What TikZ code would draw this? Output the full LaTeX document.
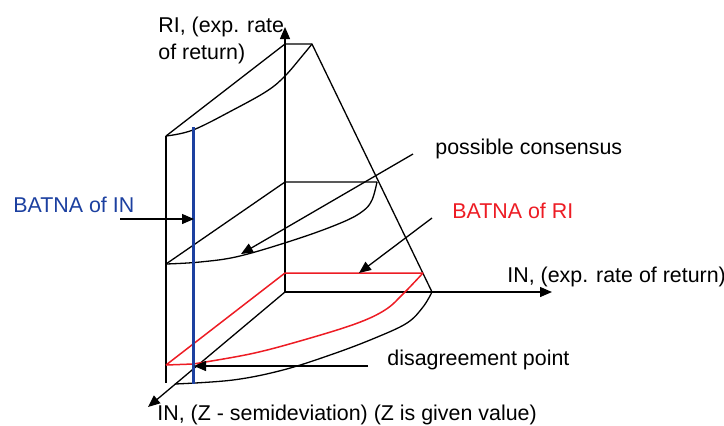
\documentclass[tikz,border=0pt]{standalone}
\usepackage{fontspec}
\setmainfont{Liberation Sans}
\usepackage{xcolor}
\usetikzlibrary{arrows.meta}

\definecolor{batnablue}{RGB}{28,64,160}
\definecolor{batnared}{RGB}{237,28,36}

\begin{document}
\begin{tikzpicture}[x=0.5pt,y=-0.5pt,
  every node/.style={inner sep=0pt,anchor=base west,font=\fontsize{10.7}{13.5}\selectfont},
  edge/.style={line width=0.65pt},
  pointer/.style={line width=0.65pt,-{Triangle[length=6pt,width=5pt]}},
  redline/.style={batnared,line width=0.75pt}]
  \useasboundingbox (0,0) rectangle (724,425);
  % axes
  \coordinate (O) at (285,292);
  \coordinate (RItip) at (285,27);
  \coordinate (INtip) at (552,292);
  \coordinate (Ztip) at (148,407);
  \draw[pointer] (O) -- (RItip);
  \draw[pointer] (O) -- (INtip);
  \draw[pointer] (O) -- (Ztip);
  % outer body
  \coordinate (top) at (312,44);
  \coordinate (topleft) at (166,136);
  \coordinate (right) at (432,292);
  \draw[edge] (RItip |- top) -- (top) -- (right);
  \draw[edge] (topleft) -- (285,44);
  \draw[edge] (topleft) -- (166,383);
  \draw[edge] plot[smooth,tension=0.6] coordinates {(166,136) (193,130) (233,110) (267,91) (285,76) (303,55) (312,44)};
  \draw[edge] plot[smooth,tension=0.6] coordinates {(175,384) (233,380) (283,370) (333,354) (375,338) (407,323) (423,307) (432,292)};
  % middle section
  \coordinate (midleft) at (166,264);
  \coordinate (midright) at (377,182);
  \draw[edge] (midleft) -- (285,182) -- (midright);
  \draw[edge] plot[smooth,tension=0.6] coordinates {(166,264) (200,262) (240,256) (300,238) (343,222) (363,211) (372,200) (377,182)};
  % BATNA of RI section
  \coordinate (redleft) at (166,365);
  \coordinate (redright) at (423,273);
  \draw[redline] (redleft) -- (285,273) -- (redright);
  \draw[redline] (redleft) -- (193,364);
  \draw[redline] plot[smooth,tension=0.6] coordinates {(193,364) (250,354) (300,341) (355,324) (385,310) (403,294) (423,273)};
  % BATNA of IN
  \draw[batnablue,line width=1.5pt] (193,127) -- (193,384);
  % labels
  \node[align=left] (RIlab) at (158,59) {RI, (exp. rate\\of return)};
  \node (INlab) at (507,282) {IN, (exp. rate of return)};
  \node (Zlab) at (157,420) {IN, (Z - semideviation) (Z is given value)};
  \node (conslab) at (435,154) {possible consensus};
  \node[text=batnared] (RIbat) at (452,218) {BATNA of RI};
  \node[text=batnablue] (INbat) at (13,212) {BATNA of IN};
  \node (dislab) at (387,365) {disagreement point};
  % pointers
  \coordinate (consfrom) at (413,154);
  \coordinate (consto) at (241,254);
  \coordinate (RIfrom) at (432,218);
  \coordinate (RIto) at (359,273);
  \coordinate (INfrom) at (120,219);
  \coordinate (INto) at (194,219);
  \coordinate (disfrom) at (368,366);
  \coordinate (disto) at (194,366);
  \draw[pointer] (consfrom) -- (consto);
  \draw[pointer] (RIfrom) -- (RIto);
  \draw[pointer] (INfrom) -- (INto);
  \draw[pointer] (disfrom) -- (disto);
\end{tikzpicture}
\end{document}
